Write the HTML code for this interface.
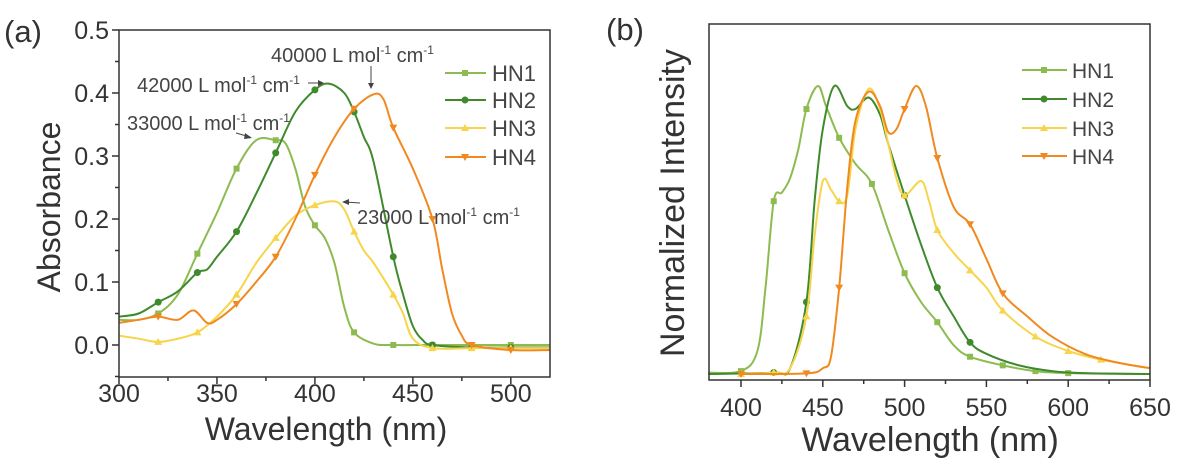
<!DOCTYPE html>
<html><head><meta charset="utf-8">
<style>
html,body{margin:0;padding:0;background:#fff;}
svg{display:block;font-family:"Liberation Sans",Arial,sans-serif;}
</style></head>
<body>
<svg id="fig" width="1181" height="468" viewBox="0 0 1181 468">
<g id="pa"></g>
<g id="pb"></g>
</svg>
<script>
// ---------- Panel (a) data: absorbance ----------
const seriesNames = ["HN1","HN2","HN3","HN4"];
const aHN1x = [300,310,320,330,340,350,360,370,380,385,390,395,400,405,410,415,420,430,440,460,480,500,520];
const aHN1y = [0.04,0.04,0.05,0.08,0.145,0.21,0.28,0.325,0.325,0.32,0.28,0.22,0.19,0.17,0.13,0.06,0.02,0.002,0,0,0,0,0];
const aHN2x = [300,310,320,330,340,345,350,360,370,380,390,400,407,415,420,425,430,440,445,450,455,460,480,500,520];
const aHN2y = [0.045,0.05,0.068,0.085,0.115,0.12,0.14,0.18,0.24,0.305,0.37,0.405,0.415,0.4,0.37,0.33,0.29,0.14,0.08,0.03,0.008,0,-0.004,-0.004,-0.004];
const aHN3x = [300,310,320,330,340,350,360,370,380,390,400,410,415,420,425,430,440,445,450,460,480,500,520];
const aHN3y = [0.015,0.01,0.005,0.01,0.02,0.045,0.08,0.13,0.17,0.205,0.222,0.228,0.215,0.18,0.15,0.13,0.08,0.05,0.01,-0.005,-0.005,-0.005,-0.005];
const aHN4x = [300,310,320,330,338,345,350,360,370,380,390,400,410,420,430,435,440,450,460,465,470,475,480,500,520];
const aHN4y = [0.035,0.04,0.045,0.04,0.055,0.035,0.04,0.065,0.1,0.14,0.2,0.27,0.33,0.375,0.398,0.39,0.345,0.28,0.2,0.12,0.05,0.015,0,-0.008,-0.008];
const aXTicks = [300,350,400,450,500];
const aYTicks = [0.0,0.1,0.2,0.3,0.4,0.5];
const aYTickLabels = ["0.0","0.1","0.2","0.3","0.4","0.5"];

// ---------- Panel (b) data: normalized emission ----------
const bHN1x = [380,400,410,415,420,425,430,435,440,447,452,460,470,480,490,500,510,520,530,540,560,580,600,650];
const bHN1y = [0.005,0.01,0.08,0.3,0.6,0.63,0.68,0.78,0.92,1.0,0.93,0.82,0.73,0.66,0.5,0.35,0.25,0.18,0.1,0.06,0.03,0.01,0.003,0];
const bHN2x = [380,420,430,440,445,450,457,465,470,478,485,490,500,510,520,530,540,550,570,590,610,650];
const bHN2y = [0,0.005,0.02,0.25,0.6,0.85,1.0,0.93,0.92,0.96,0.9,0.8,0.62,0.45,0.3,0.2,0.11,0.07,0.03,0.01,0.003,0];
const bHN3x = [400,420,430,440,445,450,455,460,465,470,478,485,490,495,500,510,515,520,530,540,550,560,580,600,620,650];
const bHN3y = [0,0.005,0.02,0.2,0.48,0.67,0.64,0.6,0.62,0.85,0.99,0.92,0.8,0.68,0.62,0.67,0.6,0.5,0.42,0.36,0.3,0.22,0.13,0.08,0.05,0.02];
const bHN4x = [400,440,450,455,460,465,470,478,485,490,495,500,507,513,520,530,540,550,560,575,590,610,630,650];
const bHN4y = [0,0.002,0.02,0.06,0.3,0.65,0.88,0.98,0.93,0.84,0.85,0.92,1.0,0.93,0.75,0.58,0.52,0.4,0.28,0.2,0.13,0.07,0.04,0.02];
const bXTicks = [400,450,500,550,600,650];

const colors = ["#8dbb50","#3f8a2c","#f6d54c","#f08a20"];
const NS = "http://www.w3.org/2000/svg";
function mk(parent, tag, attrs, text){
  const e = document.createElementNS(NS, tag);
  for (const k in attrs) e.setAttribute(k, attrs[k]);
  if (text !== undefined) e.textContent = text;
  parent.appendChild(e); return e;
}
function smooth(pts){
  let d = "M"+pts[0][0].toFixed(1)+","+pts[0][1].toFixed(1);
  for (let i=0;i<pts.length-1;i++){
    const p0=pts[Math.max(0,i-1)],p1=pts[i],p2=pts[i+1],p3=pts[Math.min(pts.length-1,i+2)];
    const c1=[p1[0]+(p2[0]-p0[0])/6,p1[1]+(p2[1]-p0[1])/6];
    const c2=[p2[0]-(p3[0]-p1[0])/6,p2[1]-(p3[1]-p1[1])/6];
    d+=" C"+c1[0].toFixed(1)+","+c1[1].toFixed(1)+" "+c2[0].toFixed(1)+","+c2[1].toFixed(1)+" "+p2[0].toFixed(1)+","+p2[1].toFixed(1);
  }
  return d;
}
function marker(g, k, x, y, c){
  let m;
  if (k===0) m = mk(g,"rect",{x:x-3,y:y-3,width:6,height:6,fill:c});
  else if (k===1) m = mk(g,"circle",{cx:x,cy:y,r:3.5,fill:c});
  else if (k===2) m = mk(g,"path",{d:`M${x},${y-4}L${x+4},${y+3}L${x-4},${y+3}Z`,fill:c});
  else m = mk(g,"path",{d:`M${x},${y+4}L${x+4},${y-3}L${x-4},${y-3}Z`,fill:c});
  
  
  return m;
}

// ===== Panel (a) =====
(function(){
  const g = document.getElementById("pa");
  const L=119,R=550,T=30,B=377;
  const X = v => L + (v-300)*(R-L)/220;
  const Y = v => 345 - v*630;
  const xs=[aHN1x,aHN2x,aHN3x,aHN4x], ys=[aHN1y,aHN2y,aHN3y,aHN4y];
  for (let s=0;s<4;s++){
    const pts = xs[s].map((x,i)=>[X(x),Y(ys[s][i])]);
    const p = mk(g,"path",{d:smooth(pts),fill:"none",stroke:colors[s],"stroke-width":2});
    
    
    xs[s].forEach((x,i)=>{ if (x%20===0 && x>300 && x<=500) marker(g,s,X(x),Y(ys[s][i]),colors[s]); });
  }
  const box = mk(g,"rect",{x:L,y:T,width:R-L,height:B-T,fill:"none",stroke:"#333","stroke-width":1.5});
   
  for (let v=300; v<=520; v+=25){
    const major = (v%50===0);
    mk(g,"line",{x1:X(v),x2:X(v),y1:B,y2:B+(major?7:4),stroke:"#333","stroke-width":1.5});
  }
  aXTicks.forEach(v=>{
    const t = mk(g,"text",{x:X(v),y:B+25,"text-anchor":"middle","font-size":25,fill:"#333"},String(v));
     
  });
  for (let i=-1; i<=10; i++){
    const v = i*0.05;
    const major = (i%2===0);
    mk(g,"line",{x1:L,x2:L-(major?7:4),y1:Y(v),y2:Y(v),stroke:"#333","stroke-width":1.5});
  }
  aYTicks.forEach((v,i)=>{
    const t = mk(g,"text",{x:L-10,y:Y(v)+9,"text-anchor":"end","font-size":25,fill:"#333"},aYTickLabels[i]);
     
  });
})();

// ===== Panel (b) =====
(function(){
  const g = document.getElementById("pb");
  const L=709,R=1150,T=24,B=380;
  const X = v => 741 + (v-400)*1.636;
  const Y = v => 374 - v*288;
  const xs=[bHN1x,bHN2x,bHN3x,bHN4x], ys=[bHN1y,bHN2y,bHN3y,bHN4y];
  for (let s=0;s<4;s++){
    const pts = xs[s].map((x,i)=>[X(x),Y(ys[s][i])]);
    const p = mk(g,"path",{d:smooth(pts),fill:"none",stroke:colors[s],"stroke-width":2});
    
    
    xs[s].forEach((x,i)=>{ if (x%20===0 && x>380 && x<650) marker(g,s,X(x),Y(ys[s][i]),colors[s]); });
  }
  const box = mk(g,"rect",{x:L,y:T,width:R-L,height:B-T,fill:"none",stroke:"#333","stroke-width":1.5});
   
  for (let v=400; v<=650; v+=25){
    const major = (v%50===0);
    mk(g,"line",{x1:X(v),x2:X(v),y1:B,y2:B+(major?7:4),stroke:"#333","stroke-width":1.5});
  }
  bXTicks.forEach(v=>{
    const t = mk(g,"text",{x:X(v),y:B+36,"text-anchor":"middle","font-size":25,fill:"#333"},String(v));
     
  });
})();
</script>
<svg width="1181" height="468" viewBox="0 0 1181 468" style="position:absolute;left:0;top:0;font-family:'Liberation Sans',Arial,sans-serif;">
  <text x="4" y="42" font-size="31" fill="#333">(a)</text>
  <text x="606" y="40" font-size="31" fill="#333">(b)</text>
  <text x="326" y="440" font-size="32" text-anchor="middle" fill="#333">Wavelength (nm)</text>
  <text x="930" y="451" font-size="34" text-anchor="middle" fill="#333">Wavelength (nm)</text>
  <text transform="translate(60,207) rotate(-90)" font-size="32" text-anchor="middle" fill="#333">Absorbance</text>
  <text transform="translate(684,203) rotate(-90)" font-size="34" text-anchor="middle" fill="#333">Normalized Intensity</text>

  <g font-size="20" fill="#444">
    <text x="271" y="62">40000 L mol<tspan dy="-8" font-size="12">-1</tspan><tspan dy="8"> cm</tspan><tspan dy="-8" font-size="12">-1</tspan></text>
    <line x1="371" y1="66" x2="371" y2="86" stroke="#444" stroke-width="1"/><path d="M368,83L371,89L374,83Z" fill="#444"/>
    <text x="137" y="92">42000 L mol<tspan dy="-8" font-size="12">-1</tspan><tspan dy="8"> cm</tspan><tspan dy="-8" font-size="12">-1</tspan></text>
    <line x1="308" y1="83" x2="322" y2="83" stroke="#444" stroke-width="1"/><path d="M318,80L324,83L318,86Z" fill="#444"/>
    <text x="127" y="130">33000 L mol<tspan dy="-8" font-size="12">-1</tspan><tspan dy="8"> cm</tspan><tspan dy="-8" font-size="12">-1</tspan></text>
    <line x1="236" y1="133" x2="250" y2="137" stroke="#444" stroke-width="1"/><path d="M245,133L252,138L244,139Z" fill="#444"/>
    <text x="357" y="224">23000 L mol<tspan dy="-8" font-size="12">-1</tspan><tspan dy="8"> cm</tspan><tspan dy="-8" font-size="12">-1</tspan></text>
    <line x1="345" y1="202" x2="360" y2="203" stroke="#444" stroke-width="1"/><path d="M349,199L342,202L349,205Z" fill="#444"/>
  </g>

  <g font-size="22" fill="#444">
    <g><line x1="445" y1="73" x2="486" y2="73" stroke="#8dbb50" stroke-width="2"/><rect x="462" y="70" width="6" height="6" fill="#8dbb50"/><text x="492" y="81">HN1</text></g>
    <g><line x1="445" y1="100" x2="486" y2="100" stroke="#3f8a2c" stroke-width="2"/><circle cx="465" cy="100" r="3.5" fill="#3f8a2c"/><text x="492" y="108">HN2</text></g>
    <g><line x1="445" y1="128" x2="486" y2="128" stroke="#f6d54c" stroke-width="2"/><path d="M465,124L469,131L461,131Z" fill="#f6d54c"/><text x="492" y="136">HN3</text></g>
    <g><line x1="445" y1="157" x2="486" y2="157" stroke="#f08a20" stroke-width="2"/><path d="M465,161L469,154L461,154Z" fill="#f08a20"/><text x="492" y="165">HN4</text></g>
  </g>
  <g font-size="21" fill="#444">
    <g><line x1="1022" y1="70" x2="1067" y2="70" stroke="#8dbb50" stroke-width="2"/><rect x="1041" y="67" width="6" height="6" fill="#8dbb50"/><text x="1072" y="78">HN1</text></g>
    <g><line x1="1022" y1="99" x2="1067" y2="99" stroke="#3f8a2c" stroke-width="2"/><circle cx="1044" cy="99" r="3.5" fill="#3f8a2c"/><text x="1072" y="107">HN2</text></g>
    <g><line x1="1022" y1="128" x2="1067" y2="128" stroke="#f6d54c" stroke-width="2"/><path d="M1044,124L1048,131L1040,131Z" fill="#f6d54c"/><text x="1072" y="136">HN3</text></g>
    <g><line x1="1022" y1="156" x2="1067" y2="156" stroke="#f08a20" stroke-width="2"/><path d="M1044,160L1048,153L1040,153Z" fill="#f08a20"/><text x="1072" y="164">HN4</text></g>
  </g>
</svg>
</body></html>
